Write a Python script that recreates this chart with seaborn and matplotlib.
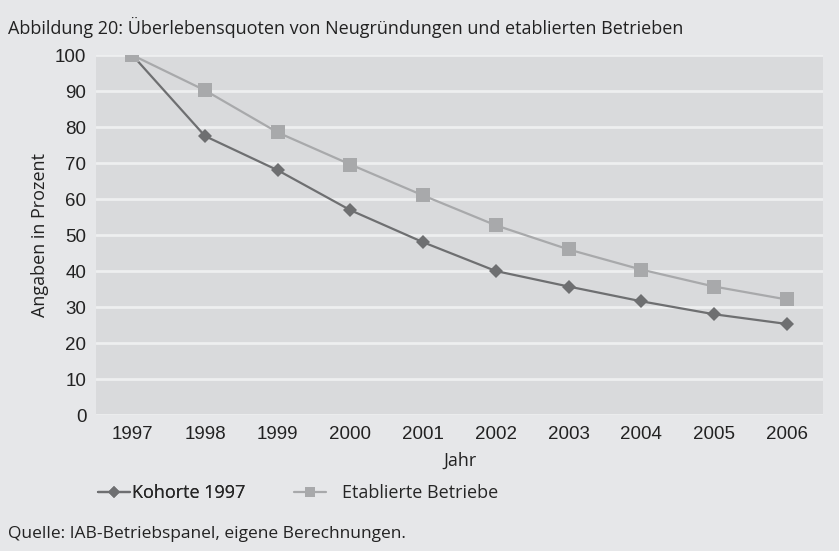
import pandas as pd
import seaborn as sns
import matplotlib.pyplot as plt
from matplotlib.lines import Line2D

# data
jahre = [1997, 1998, 1999, 2000, 2001, 2002, 2003, 2004, 2005, 2006]
kohorte = [100, 77.5, 68.0, 56.9, 48.0, 40.0, 35.7, 31.6, 28.0, 25.3]
etabliert = [100, 90.2, 78.5, 69.6, 61.0, 52.7, 46.0, 40.4, 35.7, 32.1]
serien = ["Kohorte 1997", "Etablierte Betriebe"]

df = pd.DataFrame({
    "Jahr": jahre * 2,
    "Wert": kohorte + etabliert,
    "Serie": [serien[0]] * len(jahre) + [serien[1]] * len(jahre),
})

bg = "#e6e7e9"
panel = "#d9dadc"
dunkel = "#6e6f71"
hell = "#a8a9ab"
txt = "#222222"

sns.set_style("white")
plt.rcParams["font.family"] = ["Liberation Sans", "DejaVu Sans"]
text_font = ["Open Sans", "DejaVu Sans"]

fig = plt.figure(figsize=(8.39, 5.51), dpi=100, facecolor=bg)
ax = fig.add_axes([0.1144, 0.2468, 0.8666, 0.6532])
ax.set_facecolor(panel)

sns.lineplot(data=df, x="Jahr", y="Wert", hue="Serie", style="Serie",
             palette=[dunkel, hell], markers=["D", "s"], dashes=False,
             markersize=7.5, linewidth=1.6, markeredgewidth=0, ax=ax, legend=False)
# bigger squares for the second series
ax.lines[1].set_markersize(10)

ax.set_xlim(1996.5, 2006.5)
ax.set_ylim(0, 100)
ax.set_xticks(jahre)
ax.set_yticks(range(0, 101, 10))
ax.tick_params(axis="both", length=0, labelsize=13.5, colors=txt)
ax.tick_params(axis="x", pad=8)
ax.tick_params(axis="y", pad=7)
ax.yaxis.grid(True, color="#eeeff0", linewidth=2)
ax.set_axisbelow(True)
for s in ax.spines.values():
    s.set_visible(False)

ax.set_xlabel("Jahr", fontsize=13, family=text_font, color=txt, labelpad=6)
ax.set_ylabel("Angaben in Prozent", fontsize=13, family=text_font, color=txt, labelpad=4)

fig.text(0.0095, 0.951, "Abbildung 20: Überlebensquoten von Neugründungen und etablierten Betrieben",
         fontsize=13, family=text_font, color=txt, va="center")
fig.text(0.0095, 0.031, "Quelle: IAB-Betriebspanel, eigene Berechnungen.",
         fontsize=12.5, family=text_font, color=txt, va="center")

h1 = Line2D([], [], color=dunkel, marker="D", markersize=6, linewidth=1.6, markeredgewidth=0)
h2 = Line2D([], [], color=hell, marker="s", markersize=7, linewidth=1.6, markeredgewidth=0)
leg1 = fig.legend([h1], [serien[0]], loc="center left", bbox_to_anchor=(0.097, 0.105),
                  frameon=False, handlelength=1.8, handletextpad=0.1,
                  prop={"family": text_font, "size": 13})
fig.legend([h2], [serien[1]], loc="center left", bbox_to_anchor=(0.331, 0.105),
           frameon=False, handlelength=1.8, handletextpad=0.85,
           prop={"family": text_font, "size": 13})
fig.add_artist(leg1)

fig.savefig("out.png", dpi=100, facecolor=bg)
